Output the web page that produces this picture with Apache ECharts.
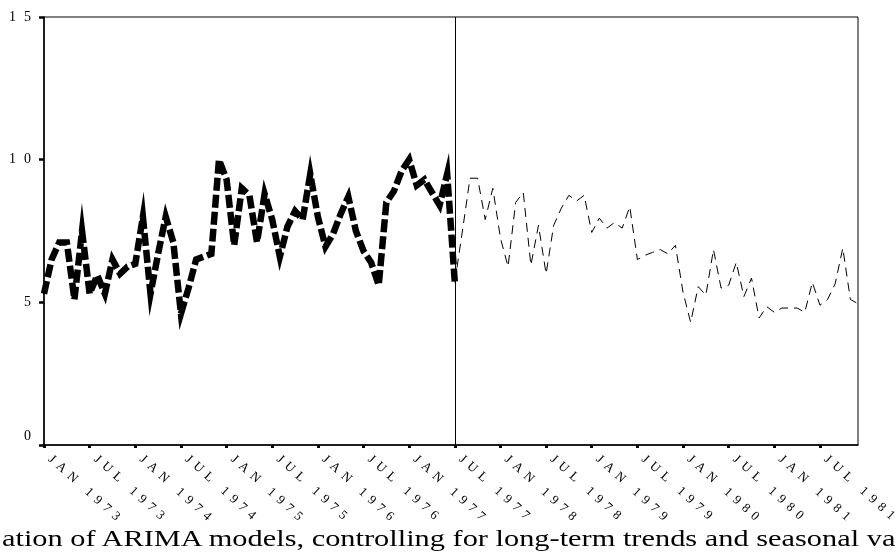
<!DOCTYPE html>
<html>
<head>
<meta charset="utf-8">
<script src="https://cdn.jsdelivr.net/npm/echarts@6/dist/echarts.min.js"></script>
<style>
html,body{margin:0;padding:0;background:#fff;}
#wrap{position:relative;width:896px;height:553px;overflow:hidden;}
#chart{position:absolute;left:0;top:0;width:896px;height:553px;}
#caption{position:absolute;left:2px;top:524px;white-space:nowrap;font-family:"Liberation Serif","Times New Roman",serif;font-size:22.5px;line-height:30px;color:#000;transform:scaleX(1.35);transform-origin:0 0;}
</style>
</head>
<body>
<div id="wrap">
<div id="chart"></div>
<div id="caption">ation of ARIMA models, controlling for long-term trends and seasonal va</div>
</div>
<script>
// ---- data ----
const monthNames = ['JAN','FEB','MAR','APR','MAY','JUN','JUL','AUG','SEP','OCT','NOV','DEC'];
const years = [1973,1974,1975,1976,1977,1978,1979,1980,1981];
const yTicks = [0, 5, 10, 15];
const splitMonthLabel = 'JUL 1977';

// observed series, Jan 1973 - Jul 1977
const observedValues = [
  5.3, 6.5, 7.1, 7.1, 5.1, 7.5, 5.3, 5.95, 5.3, 6.5, 6.0, 6.25,
  6.35, 8.0, 5.3, 6.7, 8.0, 7.1, 4.6, 5.5, 6.5, 6.6, 6.7, 10.0,
  9.3, 7.0, 9.0, 8.75, 7.1, 8.8, 7.9, 6.6, 7.65, 8.2, 7.9, 9.5,
  8.0, 6.95, 7.4, 8.1, 8.7, 7.5, 6.8, 6.4, 5.6, 8.5, 8.9, 9.6,
  10.0, 9.1, 9.3, 8.85, 8.4, 9.5, 5.7
];
// continuation series, Jul 1977 - Dec 1981
const forecastValues = [
  5.7, 7.5, 9.35, 9.35, 7.9, 9.0,
  7.25, 6.25, 8.5, 8.85, 6.3, 7.7, 6.0, 7.7, 8.3, 8.75, 8.55, 8.75,
  7.45, 7.95, 7.6, 7.8, 7.6, 8.35, 6.5, 6.65, 6.75, 6.85, 6.7, 7.0,
  5.35, 4.3, 5.55, 5.25, 6.85, 5.5, 5.6, 6.4, 5.2, 5.85, 4.45, 4.85,
  4.65, 4.8, 4.8, 4.8, 4.65, 5.7, 4.9, 5.1, 5.65, 6.9, 5.1, 4.95
];

// ---- build categories ----
const categories = [];
years.forEach(y => monthNames.forEach(m => categories.push(m + ' ' + y)));
const splitIndex = categories.indexOf(splitMonthLabel);
const observedData = categories.map((c, i) => i < observedValues.length ? observedValues[i] : null);
const forecastData = categories.map((c, i) => i >= splitIndex ? forecastValues[i - splitIndex] : null);

// letter spacing for the wide-set labels
(function(){
  const proto = CanvasRenderingContext2D.prototype;
  const orig = proto.fillText;
  proto.fillText = function(t, x, y, m){
    try { this.letterSpacing = /^\d+$/.test(String(t)) ? '8px' : '5.5px'; } catch(e) {}
    return m === undefined ? orig.call(this, t, x, y) : orig.call(this, t, x, y, m);
  };
})();

const FONT = 'Liberation Serif';
const chart = echarts.init(document.getElementById('chart'), null, {renderer:'canvas'});
chart.setOption({
  animation: false,
  backgroundColor: '#fff',
  grid: {left: 44, right: 38, top: 17, bottom: 108, show: true, borderColor: '#000', borderWidth: 1, containLabel: false},
  xAxis: {
    type: 'category',
    data: categories,
    boundaryGap: false,
    axisLine: {lineStyle: {color: '#000', width: 1.5}},
    axisTick: {show: true, interval: 5, length: 3, lineStyle: {color: '#000', width: 3}},
    axisLabel: {interval: 5, rotate: -42, margin: 7, padding: [0, 0, 0, 8], color: '#000', fontFamily: FONT, fontSize: 13},
    splitLine: {show: false}
  },
  yAxis: {
    type: 'value',
    min: yTicks[0], max: yTicks[yTicks.length - 1], interval: yTicks[1] - yTicks[0],
    axisLine: {show: true, lineStyle: {color: '#000', width: 1.5}},
    axisTick: {show: true, length: 5, lineStyle: {color: '#000', width: 2.5}},
    axisLabel: {
      margin: 5, color: '#000', fontFamily: FONT, fontSize: 14,
      formatter: v => v === 0 ? '{z|0}' : String(v),
      rich: {z: {padding: [0, 0, 18, 0], fontFamily: FONT, fontSize: 14, color: '#000'}}
    },
    splitLine: {show: false}
  },
  series: [
    {
      type: 'line', data: observedData, symbol: 'none', connectNulls: false,
      lineStyle: {color: '#000', width: 6.5, type: [13, 4], join: 'miter', miterLimit: 10, cap: 'butt'},
      markLine: {
        silent: true, symbol: 'none', label: {show: false},
        lineStyle: {color: '#000', width: 1, type: 'solid'},
        data: [{xAxis: splitMonthLabel}]
      }
    },
    {
      type: 'line', data: forecastData, symbol: 'none', connectNulls: false,
      lineStyle: {color: '#000', width: 1, type: [9, 6], join: 'miter', cap: 'butt'}
    }
  ]
});
</script>
</body>
</html>
